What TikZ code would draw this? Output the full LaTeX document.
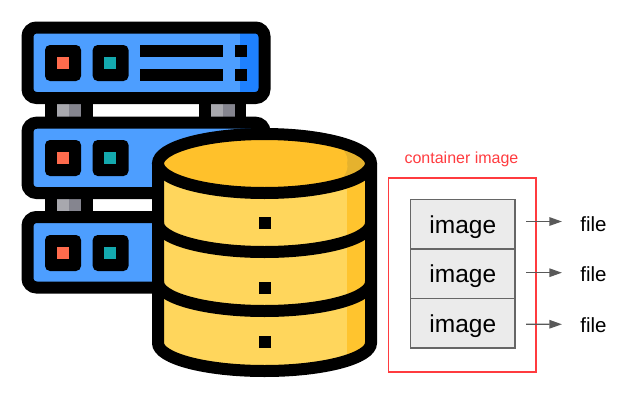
\documentclass[tikz,border=0pt]{standalone}
\usepackage{fontspec}
\setmainfont{Liberation Sans}
\usetikzlibrary{arrows.meta}
\definecolor{srvblue}{HTML}{4D9EFF}
\definecolor{srvdark}{HTML}{1E81FF}
\definecolor{ledred}{HTML}{FF6B4D}
\definecolor{ledteal}{HTML}{14A9AE}
\definecolor{footlight}{HTML}{A8A8AE}
\definecolor{footdark}{HTML}{85858F}
\definecolor{cylside}{HTML}{FFD65C}
\definecolor{cylshade}{HTML}{FFC42E}
\definecolor{cyltop}{HTML}{FFC12B}
\definecolor{cylsliver}{HTML}{E5B22E}
\definecolor{boxred}{HTML}{FF3B3F}
\definecolor{boxgray}{HTML}{EBEBEB}
\definecolor{edgegray}{HTML}{666666}
\definecolor{arrowgray}{HTML}{595959}
\tikzset{
  chassis/.style={draw=black,line width=12pt,rounded corners=9pt},
  ledbox/.style={fill=black,rounded corners=5pt},
  cylline/.style={draw=black,line width=12pt},
  imgbox/.style={draw=edgegray,fill=boxgray,line width=1.4pt,minimum width=104.3pt,minimum height=49.4pt,inner sep=0pt,outer sep=0pt,text height=23.5pt,text depth=5pt,font=\fontsize{24.5}{24.5}\selectfont},
  filetext/.style={inner sep=0pt,outer sep=0pt,font=\fontsize{20.5}{20.5}\selectfont},
  flow/.style={-{Triangle[length=12.5pt,width=8.5pt]},arrowgray,line width=1.2pt,shorten <=11pt,shorten >=18.5pt}
}
\begin{document}
\begin{tikzpicture}[x=1pt,y=-1pt]
\useasboundingbox (0,0) rectangle (640,407);
\fill[black] (45,104) rectangle (92.7,117);
\fill[black] (199,104) rectangle (246,117);
\fill[black] (45,199) rectangle (92.7,211);
\fill[footlight] (57,104) rectangle (69,116.5);
\fill[footdark] (69,104) rectangle (81,116.5);
\fill[footlight] (211,104) rectangle (223,116.5);
\fill[footdark] (223,104) rectangle (235,116.5);
\fill[footlight] (57,199) rectangle (69,211);
\fill[footdark] (69,199) rectangle (81,211);
\fill[srvblue] (27.5,27.5) rectangle (264.5,98);
\fill[srvdark] (240,33) rectangle (259,92);
\draw[chassis] (27.5,27.5) rectangle (264.5,98);
\fill[srvblue] (27.5,122.7) rectangle (264.5,193);
\fill[srvdark] (240,128) rectangle (259,187);
\draw[chassis] (27.5,122.7) rectangle (264.5,193);
\fill[srvblue] (27.5,217) rectangle (264.5,287.5);
\draw[chassis] (27.5,217) rectangle (264.5,287.5);
\fill[ledbox] (45,45) rectangle (81,81);
\fill[ledbox] (92.7,45) rectangle (128.5,81);
\fill[ledred] (57,57) rectangle (69,69);
\fill[ledteal] (104.3,57) rectangle (116.3,69);
\fill[black] (140,45) rectangle (223,57);
\fill[black] (140,69) rectangle (223,81);
\fill[black] (235,45) rectangle (247,57);
\fill[black] (235,69) rectangle (247,81);
\fill[ledbox] (45,140) rectangle (81,176);
\fill[ledbox] (92.7,140) rectangle (128.5,176);
\fill[ledred] (57,152) rectangle (69,164);
\fill[ledteal] (104.3,152) rectangle (116.3,164);
\fill[ledbox] (45,235) rectangle (81,271);
\fill[ledbox] (92.7,235) rectangle (128.5,271);
\fill[ledred] (57,247) rectangle (69,259);
\fill[ledteal] (104.3,247) rectangle (116.3,259);
\begin{scope}
\clip (158,163.5) -- (158,343) arc[start angle=180,end angle=0,x radius=106.5,y radius=28] -- (371,163.5) -- cycle;
\fill[cylside] (152,160) rectangle (377,377);
\fill[cylshade] (347,160) rectangle (377,377);
\end{scope}
\begin{scope}
\clip (264.5,163.5) ellipse[x radius=106.5,y radius=29.5];
\fill[cylsliver] (264.5,163.5) ellipse[x radius=106.5,y radius=29.5];
\fill[cyltop] (158,130) -- (325,130) .. controls (340,145) and (350,155) .. (347,163) .. controls (350,172) and (340,182) .. (325,197) -- (158,197) -- cycle;
\end{scope}
\draw[cylline] (158,163.5) -- (158,343) arc[start angle=180,end angle=0,x radius=106.5,y radius=28] -- (371,163.5);
\draw[cylline] (264.5,163.5) ellipse[x radius=106.5,y radius=29.5];
\draw[cylline] (158,223) arc[start angle=180,end angle=0,x radius=106.5,y radius=29];
\draw[cylline] (158,282) arc[start angle=180,end angle=0,x radius=106.5,y radius=29];
\fill[black] (258.5,217) rectangle (270.7,229);
\fill[black] (258.5,282) rectangle (270.7,294);
\fill[black] (258.5,336) rectangle (270.7,348);
\node[imgbox] (img1) at (462.85,224) {image};
\node[imgbox] (img2) at (462.85,273.7) {image};
\node[imgbox] (img3) at (462.85,323.2) {image};
\node[draw=boxred,line width=1.6pt,minimum width=147.5pt,minimum height=194pt,inner sep=0pt,outer sep=0pt] (frame) at (462.25,274.7) {};
\node[text=boxred,inner sep=0pt,font=\fontsize{16}{16}\selectfont] (caption) at (461.5,159) {container image};
\node[filetext] (file1) at (593.5,224) {file};
\node[filetext] (file2) at (593.5,274) {file};
\node[filetext] (file3) at (593.5,325) {file};
\draw[flow] ([yshift=2.5pt]img1.east) -- ([yshift=2.5pt]file1.west);
\draw[flow] ([yshift=1pt]img2.east) -- ([yshift=1.3pt]file2.west);
\draw[flow] ([yshift=-1pt]img3.east) -- ([yshift=0.7pt]file3.west);
\end{tikzpicture}
\end{document}
